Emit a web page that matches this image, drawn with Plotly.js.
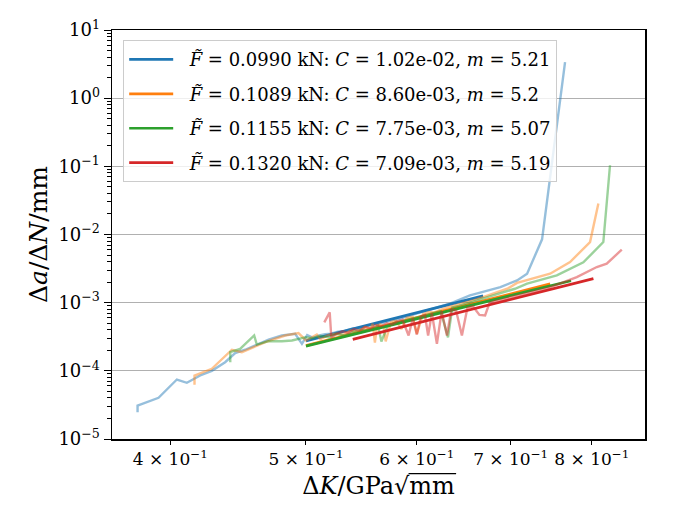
<!DOCTYPE html>
<html>
<head>
<meta charset="utf-8">
<script src="https://cdn.plot.ly/plotly-3.0.1.min.js"></script>
<style>
  html, body { margin: 0; padding: 0; background: #fff; }
  #plot { width: 675px; height: 525px; }
</style>
</head>
<body>
<div id="plot"></div>
<script>
// Crack growth rate vs. stress-intensity range, four load levels.

// Load levels (kN) and Paris-law fit parameters
const loads = [0.0990, 0.1089, 0.1155, 0.1320];
const parisC = [1.02e-2, 8.60e-3, 7.75e-3, 7.09e-3];
const parisM = [5.21, 5.2, 5.07, 5.19];
const fitStart = [0.500, 0.500, 0.500, 0.540];
const fitEnd = [0.669, 0.747, 0.773, 0.802];

// Measured da/dN vs dK, F = 0.0990 kN
const dK_1 = [0.3791, 0.3791, 0.3924, 0.4044, 0.4111, 0.4202, 0.4283, 0.4378, 0.4451, 0.4524,
  0.4702, 0.4806, 0.4912, 0.4967, 0.5010, 0.5060, 0.5110, 0.5160, 0.5210, 0.5270,
  0.5330, 0.5400, 0.5470, 0.5540, 0.5610, 0.5680, 0.5750, 0.5820, 0.5900, 0.5980,
  0.6060, 0.6140, 0.6220, 0.6336, 0.6547, 0.6883, 0.7074, 0.7192, 0.7371, 0.7655];
const dadN_1 = [2.47e-5, 3.10e-5, 4.02e-5, 7.46e-5, 6.67e-5, 8.54e-5, 1.00e-4, 1.34e-4, 1.82e-4, 2.04e-4,
  2.86e-4, 3.30e-4, 3.50e-4, 2.49e-4, 3.35e-4, 3.05e-4, 3.30e-4, 3.45e-4, 3.50e-4, 3.75e-4,
  3.85e-4, 4.20e-4, 4.30e-4, 4.65e-4, 4.90e-4, 5.10e-4, 5.50e-4, 5.75e-4, 6.30e-4, 6.75e-4,
  7.40e-4, 8.00e-4, 8.70e-4, 9.65e-4, 1.28e-3, 1.69e-3, 2.12e-3, 2.66e-3, 8.49e-3, 3.38];

// F = 0.1089 kN
const dK_2 = [0.4163, 0.4163, 0.4283, 0.4427, 0.4500, 0.4677, 0.4832, 0.4939, 0.5000,
  0.505, 0.509, 0.512, 0.518, 0.525, 0.532, 0.538, 0.545, 0.551, 0.556, 0.558, 0.560,
  0.562, 0.565, 0.568, 0.570, 0.575, 0.580, 0.585, 0.590, 0.596, 0.600, 0.606, 0.612,
  0.618, 0.625, 0.632, 0.640, 0.650, 0.660, 0.672, 0.685, 0.697,
  0.7074, 0.7469, 0.7718, 0.7976, 0.8086];
const dadN_2 = [6.23e-5, 8.54e-5, 1.07e-4, 2.04e-4, 1.88e-4, 2.63e-4, 3.30e-4, 3.57e-4, 2.79e-4,
  3.10e-4, 3.40e-4, 2.90e-4, 3.30e-4, 3.50e-4, 3.40e-4, 3.90e-4, 3.70e-4, 4.40e-4, 4.20e-4, 4.90e-4, 2.60e-4,
  4.60e-4, 4.80e-4, 4.50e-4, 2.70e-4, 5.20e-4, 5.40e-4, 4.10e-4, 6.00e-4, 6.20e-4, 3.50e-4, 6.80e-4, 7.30e-4,
  7.20e-4, 8.00e-4, 8.60e-4, 9.20e-4, 1.02e-3, 1.10e-3, 1.25e-3, 1.42e-3, 1.62e-3,
  1.95e-3, 2.66e-3, 3.94e-3, 7.75e-3, 2.84e-2];

// F = 0.1155 kN
const dK_3 = [0.4415, 0.4415, 0.4487, 0.4592, 0.4612, 0.4702, 0.4806, 0.4886, 0.5000,
  0.505, 0.512, 0.519, 0.526, 0.533, 0.540, 0.547, 0.554, 0.560, 0.563, 0.566,
  0.572, 0.578, 0.585, 0.592, 0.600, 0.608, 0.616, 0.624, 0.6315, 0.636,
  0.643, 0.652, 0.662, 0.675, 0.690, 0.705,
  0.7192, 0.7552, 0.7889, 0.8152, 0.8242];
const dadN_3 = [1.34e-4, 1.88e-4, 2.10e-4, 3.30e-4, 2.43e-4, 2.72e-4, 2.72e-4, 2.79e-4, 3.12e-4,
  3.00e-4, 3.25e-4, 3.10e-4, 3.50e-4, 3.30e-4, 3.70e-4, 4.00e-4, 3.90e-4, 4.30e-4, 4.60e-4, 2.70e-4,
  4.60e-4, 5.00e-4, 5.30e-4, 5.60e-4, 6.10e-4, 6.50e-4, 7.00e-4, 7.50e-4, 3.10e-4, 8.50e-4,
  9.00e-4, 9.80e-4, 1.08e-3, 1.20e-3, 1.38e-3, 1.60e-3,
  1.90e-3, 2.51e-3, 3.90e-3, 7.75e-3, 1.037e-1];

// F = 0.1320 kN
const dK_4 = [0.5153, 0.5199, 0.5213, 0.526, 0.531, 0.536, 0.541, 0.546, 0.551, 0.556,
  0.561, 0.566, 0.571, 0.576, 0.581, 0.586, 0.5919, 0.596, 0.600, 0.604,
  0.608, 0.6112, 0.615, 0.6201, 0.625, 0.6304, 0.635, 0.640, 0.6461, 0.652,
  0.658, 0.665, 0.6712, 0.676, 0.682, 0.690, 0.700, 0.710, 0.720, 0.732,
  0.745, 0.7594, 0.7804, 0.8065, 0.8198, 0.8403];
const dadN_4 = [5.13e-4, 7.19e-4, 3.09e-4, 3.50e-4, 3.80e-4, 3.60e-4, 4.10e-4, 3.90e-4, 4.40e-4, 4.20e-4,
  4.70e-4, 4.50e-4, 5.00e-4, 4.80e-4, 5.30e-4, 5.60e-4, 3.30e-4, 5.90e-4, 3.40e-4, 6.30e-4,
  6.60e-4, 3.30e-4, 7.00e-4, 2.50e-4, 7.50e-4, 3.30e-4, 8.00e-4, 7.60e-4, 3.30e-4, 8.40e-4,
  8.80e-4, 6.60e-4, 6.50e-4, 9.80e-4, 1.05e-3, 1.10e-3, 1.20e-3, 1.28e-3, 1.38e-3, 1.50e-3,
  1.65e-3, 1.90e-3, 2.37e-3, 3.33e-3, 3.73e-3, 6.00e-3];

// Axis tick labels
const xTickVals = [0.4, 0.5, 0.6, 0.7, 0.8];
const xTickText = ['4 × 10<sup>−1</sup>', '5 × 10<sup>−1</sup>', '6 × 10<sup>−1</sup>',
  '7 × 10<sup>−1</sup>', '8 × 10<sup>−1</sup>'];
const yTickVals = [1e-5, 1e-4, 1e-3, 1e-2, 1e-1, 1e0, 1e1];
const yTickText = ['10<sup>−5</sup>', '10<sup>−4</sup>', '10<sup>−3</sup>', '10<sup>−2</sup>',
  '10<sup>−1</sup>', '10<sup>0</sup>', '10<sup>1</sup>'];

const colors = ['#1f77b4', '#ff7f0e', '#2ca02c', '#d62728'];
const light = ['rgba(31,119,180,0.47)', 'rgba(255,127,14,0.47)', 'rgba(44,160,44,0.47)', 'rgba(214,39,40,0.47)'];
const dKs = [dK_1, dK_2, dK_3, dK_4];
const rates = [dadN_1, dadN_2, dadN_3, dadN_4];

function fmtC(c) {
  // e.g. 1.02e-02
  const s = c.toExponential(2);
  return s.replace(/e([+-])(\d)$/, 'e$10$2');
}

const traces = [];
for (let i = 0; i < 4; i++) {
  traces.push({
    x: dKs[i], y: rates[i], type: 'scatter', mode: 'lines',
    line: { color: light[i], width: 2.4 },
    showlegend: false, hoverinfo: 'skip'
  });
  const fx = [fitStart[i], fitEnd[i]];
  const fy = fx.map(k => parisC[i] * Math.pow(k, parisM[i]));
  traces.push({
    x: fx, y: fy, type: 'scatter', mode: 'lines',
    line: { color: colors[i], width: 2.7 },
    legendgroup: 'g' + i,
    name: '\u00a0\u00a0<i>F̃</i> = ' + loads[i].toFixed(4) + ' kN: <i>C</i> = ' + fmtC(parisC[i]) +
      ', <i>m</i> = ' + String(parisM[i])
  });
}

const serif = 'DejaVu Serif, Liberation Serif, serif';
const titleSize = 24;

const minorY = [];
for (let e = -5; e < 1; e++) {
  for (let d = 2; d <= 9; d++) minorY.push(d * Math.pow(10, e));
}

const layout = {
  width: 675, height: 525,
  margin: { l: 112, r: 30, t: 30, b: 86 },
  paper_bgcolor: '#ffffff', plot_bgcolor: '#ffffff',
  font: { family: serif, size: 18, color: '#000' },
  showlegend: true,
  legend: {
    x: 0.021, y: 0.975, xanchor: 'left', yanchor: 'top',
    bgcolor: 'rgba(255,255,255,0.8)', bordercolor: '#cccccc', borderwidth: 1,
    font: { family: serif, size: 18, color: '#000' },
    traceorder: 'grouped', tracegroupgap: 8, itemwidth: 44
  },
  xaxis: {
    type: 'log', range: [Math.log10(0.3635), Math.log10(0.8730)],
    tickvals: xTickVals, ticktext: xTickText, tickangle: 0,
    ticks: 'outside', ticklen: 4, tickwidth: 1, tickcolor: '#000',
    showgrid: false, zeroline: false,
    showline: true, linecolor: '#000', linewidth: 1.5, mirror: true,
    tickfont: { family: serif, size: 17 },
    title: {
      text: 'Δ<i>K</i>/GPa<span style="font-style:normal">√</span><span style="font-style:normal">mm</span>',
      font: { family: serif, size: titleSize }, standoff: 9
    }
  },
  yaxis: {
    type: 'log', range: [-5, 1],
    tickvals: yTickVals, ticktext: yTickText,
    ticks: 'outside', ticklen: 7, tickwidth: 1, tickcolor: '#000',
    minor: { tickvals: minorY, ticks: 'outside', ticklen: 4, tickwidth: 1, tickcolor: '#000', showgrid: false },
    showgrid: true, gridcolor: '#b0b0b0', gridwidth: 1,
    zeroline: false,
    showline: true, linecolor: '#000', linewidth: 1.5, mirror: true,
    tickfont: { family: serif, size: 18 },
    title: { text: 'Δ<i>a</i>/Δ<i>N</i>/mm', font: { family: serif, size: 25 }, standoff: 3 }
  }
};

const gd = document.getElementById('plot');
Plotly.newPlot(gd, traces, layout, { displayModeBar: false, staticPlot: true }).then(() => {
  // Radical bar over "mm" in the x-axis title, placed from the rendered glyph boxes
  const spans = gd.querySelectorAll('.xtitle tspan');
  let rootSpan = null, radSpan = null;
  spans.forEach(s => {
    if (s.textContent === '√') rootSpan = s;
    if (s.textContent === 'mm') radSpan = s;
  });
  if (!rootSpan || !radSpan) return;
  const host = gd.getBoundingClientRect();
  const r1 = rootSpan.getBoundingClientRect();
  const r2 = radSpan.getBoundingClientRect();
  const sz = gd._fullLayout._size;
  const baseline = r2.bottom - host.top - 0.236 * titleSize;
  const barY = baseline - 0.86 * titleSize;
  const x0 = (r1.right - host.left - 1.5 - sz.l) / sz.w;
  const x1 = (r2.right - host.left + 1 - sz.l) / sz.w;
  const y = (sz.t + sz.h - barY) / sz.h;
  Plotly.relayout(gd, {
    shapes: [{ type: 'line', xref: 'paper', yref: 'paper', x0: x0, x1: x1, y0: y, y1: y,
      line: { color: '#000', width: 1.3 } }]
  });
});
</script>
</body>
</html>
